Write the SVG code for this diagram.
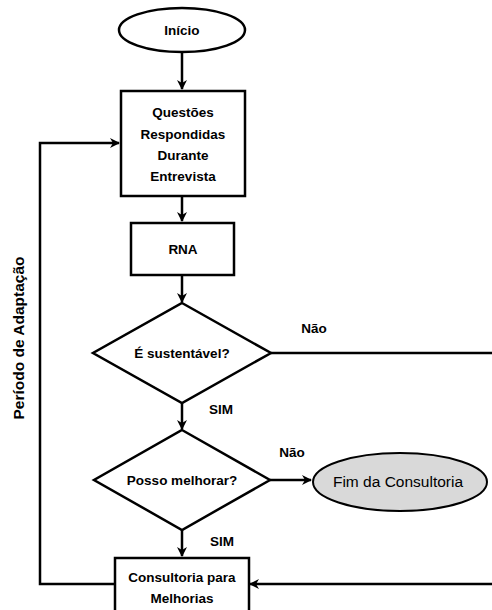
<svg xmlns="http://www.w3.org/2000/svg" width="492" height="610" viewBox="0 0 492 610">
<defs>
<marker id="ah" markerWidth="10" markerHeight="10" refX="9" refY="5" orient="auto" markerUnits="userSpaceOnUse">
<path d="M0,0 L10,5 L0,10 L3,5 Z" fill="#000"/>
</marker>
<style>
.sh{fill:#fff;stroke:#000;stroke-width:2.5}
.gr{fill:#d9d9d9;stroke:#000;stroke-width:2}
.ln{fill:none;stroke:#000;stroke-width:2.5}
.t{font-family:"Liberation Sans",Arial,sans-serif;font-weight:bold;font-size:13.5px;text-anchor:middle;fill:#000}
.r{font-size:15.5px}
.n{font-family:"Liberation Sans",Arial,sans-serif;font-size:15.5px;text-anchor:middle;fill:#000}
</style>
</defs>
<rect width="492" height="610" fill="#fff"/>
<g id="connectors">
<path class="ln" d="M182,52 V89" marker-end="url(#ah)"/>
<path class="ln" d="M182,196 V221" marker-end="url(#ah)"/>
<path class="ln" d="M182,275 V302" marker-end="url(#ah)"/>
<path class="ln" d="M271,353 H492"/>
<path class="ln" d="M182,403 V429" marker-end="url(#ah)"/>
<path class="ln" d="M270,480 H311" marker-end="url(#ah)"/>
<path class="ln" d="M182,530 V556" marker-end="url(#ah)"/>
<path class="ln" d="M492,584 H250" marker-end="url(#ah)"/>
<path class="ln" d="M115,584 H40 V143 H119" marker-end="url(#ah)"/>
<text class="t" x="314" y="333">Não</text>
<text class="t" x="221" y="414">SIM</text>
<text class="t" x="292" y="457">Não</text>
<text class="t" x="222" y="546">SIM</text>
<text class="t r" transform="translate(24,338) rotate(-90)">Período de Adaptação</text>
</g>
<g id="inicio">
<ellipse class="sh" cx="182" cy="30" rx="63" ry="22"/>
<text class="t" x="182" y="35">Início</text>
</g>
<g id="questoes">
<rect class="sh" x="121" y="91" width="124" height="105"/>
<text class="t" x="183" y="117">Questões</text>
<text class="t" x="183" y="139">Respondidas</text>
<text class="t" x="183" y="160">Durante</text>
<text class="t" x="183" y="181">Entrevista</text>
</g>
<g id="rna">
<rect class="sh" x="131" y="223" width="103" height="52"/>
<text class="t" x="183" y="254">RNA</text>
</g>
<g id="sustentavel">
<polygon class="sh" points="182,303 271,353 182,403 93,353"/>
<text class="t" x="182" y="358">É sustentável?</text>
</g>
<g id="melhorar">
<polygon class="sh" points="182,430 270,480 182,530 94,480"/>
<text class="t" x="182" y="485">Posso melhorar?</text>
</g>
<g id="fim">
<ellipse class="gr" cx="400" cy="482" rx="87" ry="29"/>
<text class="n" x="398" y="487">Fim da Consultoria</text>
</g>
<g id="consultoria">
<rect class="sh" x="115" y="558" width="134" height="60"/>
<text class="t" x="182" y="582">Consultoria para</text>
<text class="t" x="182" y="603">Melhorias</text>
</g>
</svg>
